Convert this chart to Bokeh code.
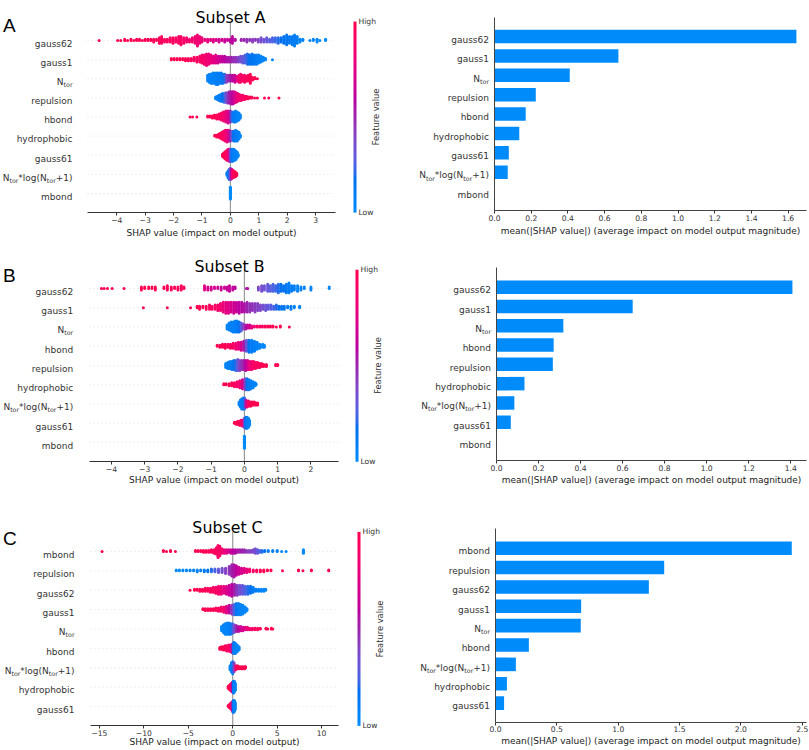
import math
import numpy as np
from bokeh.plotting import figure
from bokeh.layouts import column, row
from bokeh.models import (LinearColorMapper, ColorBar, FixedTicker, Label,
                          NumeralTickFormatter, CustomJSTickFormatter, ColumnDataSource)
from bokeh.embed import file_html
from bokeh.resources import INLINE

# ======================= DATA =======================
A_features = ["gauss62", "gauss1", "Ntor", "repulsion", "hbond", "hydrophobic", "gauss61", "Ntor*log(Ntor+1)", "mbond"]
A_mean_abs = [1.645, 0.675, 0.41, 0.225, 0.17, 0.135, 0.078, 0.072, 0.0]
B_features = ["gauss62", "gauss1", "Ntor", "hbond", "repulsion", "hydrophobic", "Ntor*log(Ntor+1)", "gauss61", "mbond"]
B_mean_abs = [1.408, 0.648, 0.318, 0.272, 0.268, 0.133, 0.085, 0.068, 0.0]
C_features = ["mbond", "repulsion", "gauss62", "gauss1", "Ntor", "hbond", "Ntor*log(Ntor+1)", "hydrophobic", "gauss61"]
C_mean_abs = [2.415, 1.375, 1.25, 0.698, 0.695, 0.272, 0.166, 0.093, 0.07]

A_swarm_ticks = [-4, -3, -2, -1, 0, 1, 2, 3]
B_swarm_ticks = [-4, -3, -2, -1, 0, 1, 2]
C_swarm_ticks = [-15, -10, -5, 0, 5, 10]
A_bar_ticks = [0.0, 0.2, 0.4, 0.6, 0.8, 1.0, 1.2, 1.4, 1.6]
B_bar_ticks = [0.0, 0.2, 0.4, 0.6, 0.8, 1.0, 1.2, 1.4]
C_bar_ticks = [0.0, 0.5, 1.0, 1.5, 2.0, 2.5]

# axis extents
A_swarm_xlim = (-5.03, 3.70)
B_swarm_xlim = (-4.66, 2.83)
C_swarm_xlim = (-16.0, 11.9)
A_bar_xlim = (0.0, 1.70)
B_bar_xlim = (0.0, 1.475)
C_bar_xlim = (0.0, 2.535)

# beeswarm stacks: (SHAP value, number of stacked points, feature value 0=low..1=high)
A_gauss62 = [(-4.62,1,1.0),(-3.97,1,1.0),(-3.86,1,1.0),(-3.72,2,1.0),(-3.62,1,1.0),(-3.5,2,1.0),(-3.4,1,1.0),
             (-3.3,2,0.98),(-3.2,2,0.98),(-3.1,1,0.98),(-3.0,2,0.97),(-2.9,2,0.97),(-2.8,2,0.97),(-2.7,3,0.96),
             (-2.6,2,0.96),(-2.5,5,0.95),(-2.42,6,0.95),(-2.32,3,0.94),(-2.22,3,0.93),(-2.12,4,0.93),(-2.02,5,0.92),
             (-1.92,4,0.91),(-1.82,6,0.9),(-1.74,7,0.9),(-1.64,5,0.89),(-1.54,4,0.88),(-1.44,3,0.87),(-1.34,4,0.86),
             (-1.24,6,0.85),(-1.16,9,0.84),(-1.08,6,0.83),(-1.0,4,0.82),(-0.9,2,0.8),(-0.8,3,0.78),(-0.7,2,0.76),
             (-0.6,3,0.74),(-0.5,2,0.72),(-0.4,3,0.7),(-0.3,2,0.68),(-0.2,3,0.66),(-0.1,2,0.64),(0.0,3,0.62),
             (0.07,6,0.6),(0.17,2,0.58),(0.38,2,0.5),(0.48,2,0.48),(0.58,3,0.47),(0.68,2,0.45),(0.78,3,0.43),
             (0.88,2,0.42),(0.98,3,0.4),(1.08,4,0.36),(1.18,3,0.33),(1.28,4,0.3),(1.38,3,0.28),(1.48,4,0.25),
             (1.58,4,0.22),(1.68,5,0.2),(1.78,4,0.18),(1.88,6,0.16),(1.98,8,0.14),(2.08,6,0.12),(2.18,7,0.1),
             (2.26,9,0.1),(2.35,6,0.08),(2.45,3,0.06),(2.55,2,0.05),(2.8,1,0.04),(2.92,2,0.03),(3.05,3,0.02),
             (3.15,1,0.02),(3.35,2,0.0)]
A_gauss1 = [(-2.08,2,1.0),(-1.98,2,1.0),(-1.88,2,0.98),(-1.78,2,0.98),(-1.68,2,0.97),(-1.58,3,0.96),(-1.48,3,0.95),
            (-1.38,3,0.94),(-1.28,4,0.93),(-1.18,5,0.92),(-1.08,6,0.9),(-1.0,8,0.88),(-0.92,9,0.86),(-0.84,11,0.84),
            (-0.76,10,0.82),(-0.68,8,0.8),(-0.6,7,0.77),(-0.52,8,0.74),(-0.44,7,0.7),(-0.36,6,0.66),(-0.28,6,0.62),
            (-0.2,6,0.6),(-0.12,5,0.57),(-0.04,5,0.55),(0.04,5,0.5),(0.12,5,0.47),(0.2,5,0.44),(0.28,5,0.4),
            (0.36,6,0.35),(0.44,7,0.3),(0.52,8,0.25),(0.6,10,0.2),(0.68,9,0.16),(0.76,10,0.14),(0.84,9,0.12),
            (0.92,9,0.1),(1.0,8,0.08),(1.08,6,0.06),(1.16,4,0.05),(1.24,2,0.04),(1.48,1,0.02)]
A_Ntor = [(-0.8,6,0.04),(-0.74,8,0.05),(-0.68,9,0.05),(-0.62,10,0.06),(-0.56,10,0.06),(-0.5,11,0.07),(-0.44,11,0.08),
          (-0.38,10,0.09),(-0.32,10,0.1),(-0.26,9,0.12),(-0.2,8,0.2),(-0.14,7,0.38),(-0.08,6,0.45),(-0.02,6,0.5),
          (0.04,6,0.55),(0.1,6,0.6),(0.16,7,0.65),(0.22,5,0.72),(0.3,7,0.85),(0.36,8,0.88),(0.42,6,0.9),
          (0.5,7,0.92),(0.56,5,0.94),(0.62,6,0.95),(0.7,9,0.97),(0.78,3,0.98),(0.86,2,1.0),(0.95,1,1.0)]
A_repulsion = [(-0.52,3,0.05),(-0.46,5,0.06),(-0.4,7,0.08),(-0.34,9,0.1),(-0.28,10,0.15),(-0.22,11,0.2),(-0.16,12,0.3),
               (-0.1,13,0.4),(-0.04,14,0.5),(0.02,15,0.55),(0.08,15,0.6),(0.14,14,0.68),(0.2,12,0.75),(0.26,10,0.8),
               (0.32,8,0.85),(0.38,7,0.88),(0.44,6,0.9),(0.5,5,0.92),(0.56,4,0.94),(0.62,3,0.96),(0.68,2,0.97),
               (0.75,2,0.98),(0.85,1,1.0),(0.95,1,1.0),(1.2,1,1.0),(1.35,1,1.0),(1.71,1,1.0)]
A_hbond = [(-1.42,1,1.0),(-1.33,1,1.0),(-1.18,1,1.0),(-0.8,2,1.0),(-0.72,2,1.0),(-0.64,3,0.98),(-0.56,4,0.97),
           (-0.48,5,0.95),(-0.4,6,0.93),(-0.32,8,0.9),(-0.24,10,0.85),(-0.16,12,0.8),(-0.08,13,0.7),(0.0,12,0.5),
           (0.06,10,0.2),(0.12,11,0.1),(0.18,12,0.08),(0.24,10,0.06),(0.3,8,0.05),(0.35,4,0.04)]
A_hydrophobic = [(-0.55,2,1.0),(-0.48,3,1.0),(-0.42,4,0.98),(-0.36,6,0.96),(-0.3,8,0.94),(-0.24,10,0.9),(-0.18,12,0.87),
                 (-0.12,13,0.8),(-0.06,12,0.7),(0.0,11,0.5),(0.06,10,0.3),(0.12,11,0.15),(0.18,12,0.1),(0.24,11,0.08),
                 (0.3,8,0.06),(0.35,3,0.05)]
A_gauss61 = [(-0.28,3,1.0),(-0.24,5,1.0),(-0.2,7,0.98),(-0.16,9,0.96),(-0.12,11,0.93),(-0.08,12,0.88),(-0.04,13,0.7),
             (0.0,13,0.4),(0.04,13,0.2),(0.08,13,0.12),(0.12,12,0.08),(0.16,11,0.06),(0.2,9,0.05),(0.24,6,0.04),
             (0.27,3,0.03)]
A_Ntorlog = [(-0.12,4,0.1),(-0.08,9,0.12),(-0.04,13,0.2),(0.0,14,0.35),(0.04,12,0.6),(0.08,10,0.85),(0.12,8,0.95),
             (0.16,7,1.0),(0.2,5,1.0),(0.22,3,1.0)]
A_mbond = [(0.0,20,0.0)]

B_gauss62 = [(-4.3,1,1.0),(-4.22,1,1.0),(-4.12,1,1.0),(-3.98,1,1.0),(-3.62,1,1.0),(-3.1,3,1.0),(-3.0,2,1.0),(-2.88,2,1.0),
             (-2.78,2,0.98),(-2.68,3,0.98),(-2.42,2,0.97),(-2.32,4,0.97),(-2.2,3,0.96),(-2.1,2,0.96),(-2.0,3,0.95),
             (-1.9,4,0.95),(-1.82,2,0.94),(-1.2,4,0.75),(-1.1,3,0.72),(-1.0,3,0.7),(-0.9,2,0.68),(-0.8,2,0.67),
             (-0.7,3,0.66),(-0.6,2,0.65),(-0.52,3,0.64),(-0.45,5,0.64),(-0.35,3,0.62),(-0.28,2,0.6),(0.06,1,0.55),
             (0.1,1,0.55),(0.42,3,0.38),(0.52,5,0.35),(0.6,4,0.33),(0.7,6,0.3),(0.78,5,0.28),(0.86,6,0.25),
             (0.94,5,0.22),(1.02,7,0.2),(1.1,6,0.18),(1.18,5,0.15),(1.26,7,0.12),(1.34,8,0.1),(1.42,5,0.1),
             (1.5,4,0.08),(1.6,5,0.07),(1.7,3,0.06),(1.8,2,0.05),(2.0,3,0.04),(2.55,2,0.02)]
B_gauss1 = [(-3.04,1,1.0),(-2.32,1,1.0),(-1.62,1,1.0),(-1.42,2,1.0),(-1.35,3,0.98),(-1.25,2,0.97),(-1.15,3,0.96),
            (-1.05,4,0.94),(-0.97,3,0.93),(-0.88,4,0.9),(-0.8,5,0.88),(-0.72,6,0.85),(-0.64,8,0.8),(-0.56,9,0.77),
            (-0.48,9,0.74),(-0.4,8,0.7),(-0.32,9,0.67),(-0.24,8,0.64),(-0.16,9,0.6),(-0.08,8,0.58),(0.0,7,0.55),
            (0.08,8,0.5),(0.16,7,0.47),(0.24,6,0.45),(0.32,7,0.42),(0.4,6,0.4),(0.48,5,0.38),(0.56,4,0.35),
            (0.64,5,0.32),(0.72,4,0.3),(0.8,4,0.27),(0.88,3,0.24),(0.96,4,0.2),(1.04,3,0.18),(1.12,3,0.15),
            (1.2,3,0.12),(1.3,2,0.1),(1.4,3,0.08),(1.5,2,0.06),(1.66,2,0.04)]
B_Ntor = [(-0.52,5,0.05),(-0.46,8,0.05),(-0.4,10,0.06),(-0.34,11,0.07),(-0.28,12,0.08),(-0.22,12,0.1),(-0.16,11,0.15),
          (-0.1,9,0.25),(-0.04,6,0.4),(0.04,5,0.55),(0.1,4,0.62),(0.16,4,0.7),(0.22,3,0.78),(0.3,2,0.85),
          (0.38,2,0.9),(0.46,2,0.92),(0.54,2,0.94),(0.62,2,0.96),(0.7,2,0.97),(0.78,2,0.98),(0.86,2,0.99),
          (0.96,1,1.0),(1.08,2,1.0),(1.35,1,1.0)]
B_hbond = [(-0.82,2,1.0),(-0.74,3,1.0),(-0.66,4,0.98),(-0.58,5,0.97),(-0.5,4,0.95),(-0.42,5,0.93),(-0.34,6,0.9),
           (-0.26,7,0.85),(-0.18,8,0.8),(-0.1,9,0.7),(-0.02,10,0.55),(0.06,12,0.3),(0.14,13,0.15),(0.22,13,0.1),
           (0.3,11,0.08),(0.38,8,0.06),(0.46,5,0.05),(0.55,4,0.04),(0.6,3,0.03)]
B_repulsion = [(-0.56,5,0.05),(-0.5,7,0.06),(-0.44,8,0.08),(-0.38,9,0.1),(-0.32,10,0.15),(-0.26,11,0.2),(-0.2,12,0.3),
               (-0.14,11,0.4),(-0.08,10,0.45),(-0.02,10,0.5),(0.04,11,0.6),(0.1,10,0.7),(0.16,9,0.8),(0.22,9,0.85),
               (0.28,8,0.9),(0.34,7,0.92),(0.4,6,0.94),(0.46,5,0.95),(0.52,4,0.97),(0.58,3,0.98),(0.66,3,1.0),
               (0.94,2,1.0),(1.0,2,1.0)]
B_hydrophobic = [(-0.62,2,1.0),(-0.55,2,1.0),(-0.46,3,0.98),(-0.38,4,0.96),(-0.3,5,0.93),(-0.22,6,0.9),(-0.14,8,0.85),
                 (-0.06,10,0.7),(0.02,12,0.4),(0.08,12,0.15),(0.14,11,0.1),(0.2,9,0.08),(0.26,7,0.06),(0.32,4,0.05),
                 (0.35,2,0.04)]
B_Ntorlog = [(-0.16,4,0.05),(-0.12,8,0.06),(-0.08,11,0.08),(-0.04,12,0.1),(0.0,12,0.2),(0.04,8,0.5),(0.08,7,0.75),
             (0.12,6,0.9),(0.16,5,0.95),(0.2,5,1.0),(0.25,4,1.0),(0.3,4,1.0),(0.35,3,1.0),(0.4,3,1.0)]
B_gauss61 = [(-0.3,2,1.0),(-0.25,3,1.0),(-0.2,4,0.98),(-0.15,5,0.96),(-0.1,6,0.93),(-0.05,7,0.85),(0.0,10,0.4),
             (0.04,12,0.15),(0.08,12,0.08),(0.12,10,0.05),(0.15,6,0.04)]
B_mbond = [(0.0,20,0.0)]

C_mbond = [(-14.7,1,1.0),(-7.8,2,1.0),(-7.45,1,1.0),(-7.0,2,1.0),(-6.45,1,1.0),(-4.2,2,1.0),(-3.9,2,1.0),(-3.6,2,0.98),
           (-3.3,3,0.98),(-3.0,3,0.97),(-2.7,3,0.96),(-2.4,4,0.95),(-2.1,5,0.94),(-1.85,8,0.93),(-1.65,15,0.92),
           (-1.45,12,0.9),(-1.2,6,0.85),(-0.95,5,0.8),(-0.7,5,0.75),(-0.45,4,0.7),(-0.2,5,0.65),(0.05,5,0.6),
           (0.3,5,0.58),(0.55,4,0.55),(0.8,4,0.52),(1.05,4,0.5),(1.3,4,0.48),(1.55,3,0.45),(1.8,3,0.42),
           (2.05,3,0.4),(2.3,4,0.38),(2.55,6,0.35),(2.8,5,0.3),(3.05,3,0.25),(3.3,3,0.2),(3.6,2,0.15),(4.0,2,0.1),
           (4.5,2,0.08),(5.0,2,0.06),(5.5,1,0.05),(6.0,1,0.04),(7.95,5,0.02)]
C_repulsion = [(-6.35,2,0.0),(-6.0,2,0.0),(-5.6,2,0.02),(-5.2,2,0.03),(-4.8,2,0.04),(-4.4,2,0.05),(-4.0,3,0.06),
               (-3.6,2,0.08),(-3.2,3,0.1),(-2.8,3,0.15),(-2.4,4,0.2),(-2.0,4,0.25),(-1.6,5,0.3),(-1.2,6,0.35),
               (-0.8,7,0.4),(-0.4,10,0.45),(-0.1,14,0.5),(0.15,15,0.55),(0.4,12,0.6),(0.7,9,0.65),(1.0,7,0.7),
               (1.3,6,0.75),(1.6,5,0.8),(1.9,4,0.85),(2.3,3,0.9),(2.7,3,0.93),(3.1,3,0.96),(3.5,3,0.98),(3.9,2,1.0),
               (4.3,2,1.0),(5.6,1,1.0),(7.4,2,1.0),(7.9,1,1.0),(8.85,2,1.0),(10.8,2,1.0)]
C_gauss62 = [(-4.8,1,1.0),(-4.3,2,1.0),(-4.0,2,1.0),(-3.7,3,0.98),(-3.4,3,0.97),(-3.1,4,0.96),(-2.8,4,0.95),
             (-2.5,5,0.94),(-2.2,6,0.92),(-1.9,7,0.9),(-1.6,9,0.87),(-1.3,9,0.82),(-1.0,8,0.77),(-0.7,9,0.72),
             (-0.4,11,0.65),(-0.1,13,0.6),(0.2,12,0.5),(0.5,11,0.42),(0.8,10,0.35),(1.1,10,0.3),(1.4,9,0.25),
             (1.7,9,0.2),(2.0,8,0.15),(2.3,6,0.1),(2.6,3,0.08),(2.9,3,0.06),(3.2,3,0.05),(3.5,3,0.04),(3.7,2,0.03)]
C_gauss1 = [(-3.35,2,1.0),(-3.1,3,1.0),(-2.8,3,1.0),(-2.5,3,0.98),(-2.2,3,0.97),(-1.9,4,0.95),(-1.6,5,0.93),
            (-1.3,6,0.9),(-1.0,7,0.85),(-0.7,9,0.75),(-0.4,10,0.6),(-0.1,11,0.45),(0.15,13,0.25),(0.4,14,0.12),
            (0.65,14,0.08),(0.9,13,0.06),(1.15,11,0.05),(1.4,7,0.04),(1.6,3,0.03)]
C_Ntor = [(-1.25,6,0.02),(-1.05,10,0.03),(-0.85,13,0.04),(-0.65,14,0.05),(-0.45,14,0.07),(-0.25,13,0.1),(-0.05,12,0.2),
          (0.15,10,0.35),(0.4,8,0.5),(0.65,7,0.58),(0.9,6,0.65),(1.15,5,0.7),(1.4,4,0.75),(1.65,4,0.8),(1.9,3,0.85),
          (2.2,3,0.88),(2.5,3,0.92),(2.8,3,0.95),(3.1,2,0.97),(3.75,2,1.0),(3.95,1,1.0),(4.35,2,1.0),(4.5,1,1.0)]
C_hbond = [(-1.45,3,1.0),(-1.25,4,1.0),(-1.05,5,0.98),(-0.85,6,0.96),(-0.65,7,0.93),(-0.45,8,0.9),(-0.25,9,0.85),
           (-0.05,11,0.5),(0.12,14,0.1),(0.3,13,0.07),(0.5,9,0.05),(0.7,5,0.04)]
C_Ntorlog = [(-0.3,5,0.05),(-0.15,10,0.06),(0.0,13,0.1),(0.15,10,0.4),(0.35,5,0.85),(0.55,4,0.95),(0.75,3,1.0),
             (0.95,3,1.0),(1.15,3,1.0),(1.35,3,1.0),(1.45,2,1.0)]
C_hydrophobic = [(-0.5,3,1.0),(-0.38,5,1.0),(-0.26,7,0.97),(-0.14,9,0.9),(-0.02,11,0.6),(0.08,13,0.15),(0.18,12,0.07),
                 (0.28,8,0.04)]
C_gauss61 = [(-0.5,2,1.0),(-0.38,4,1.0),(-0.26,6,0.97),(-0.14,8,0.9),(-0.02,11,0.5),(0.08,13,0.12),(0.18,12,0.06),
             (0.28,8,0.04)]

A_rows = [A_gauss62, A_gauss1, A_Ntor, A_repulsion, A_hbond, A_hydrophobic, A_gauss61, A_Ntorlog, A_mbond]
B_rows = [B_gauss62, B_gauss1, B_Ntor, B_hbond, B_repulsion, B_hydrophobic, B_Ntorlog, B_gauss61, B_mbond]
C_rows = [C_mbond, C_repulsion, C_gauss62, C_gauss1, C_Ntor, C_hbond, C_Ntorlog, C_hydrophobic, C_gauss61]

# ======================= STYLE / LAYOUT =======================
FONT = "DejaVu Sans"
AXIS_COL = "#333333"
BAR_COL = "#008bfb"


def lch_to_hex(L, C, h):
    a, b = C * math.cos(h), C * math.sin(h)
    fy = (L + 16) / 116
    fx, fz = fy + a / 500, fy - b / 200

    def finv(t):
        return t ** 3 if t ** 3 > 0.008856 else (t - 16 / 116) / 7.787
    X, Y, Z = 0.95047 * finv(fx), finv(fy), 1.08883 * finv(fz)
    rgb = [3.2406 * X - 1.5372 * Y - 0.4986 * Z,
           -0.9689 * X + 1.8758 * Y + 0.0415 * Z,
           0.0557 * X - 0.2040 * Y + 1.0570 * Z]
    out = []
    for v in rgb:
        v = 12.92 * v if v <= 0.0031308 else 1.055 * (max(v, 0) ** (1 / 2.4)) - 0.055
        out.append(int(round(min(max(v, 0), 1) * 255)))
    return "#%02x%02x%02x" % tuple(out)


def red_blue_palette(nsteps=100):
    blue_lch = (54.0, 70.0, 4.6588)
    red_lch = (54.0, 90.0, 0.35470565 + 2 * math.pi)
    l_mid = 40.0
    ls = list(np.linspace(blue_lch[0], l_mid, nsteps // 2)) + list(np.linspace(l_mid, red_lch[0], nsteps // 2))
    cs = np.linspace(blue_lch[1], red_lch[1], nsteps)
    hs = np.linspace(blue_lch[2], red_lch[2], nsteps)
    return [lch_to_hex(l, c, h) for l, c, h in zip(ls, cs, hs)]


MAPPER = LinearColorMapper(palette=red_blue_palette(), low=0, high=1)

# DejaVu Sans advance widths (em) for the pieces of subscripted labels
CW = {"N": 0.748, "t": 0.392, "o": 0.612, "r": 0.411, "*": 0.5, "l": 0.278, "g": 0.635,
      "(": 0.390, ")": 0.390, "+": 0.838, "1": 0.636}


def tw(s, size):
    return sum(CW[ch] for ch in s) * size


class Geo:
    """maps picture pixels to a figure whose frame fills the whole figure"""
    def __init__(self, fig_box, plot_box, xlim, ylim):
        self.fx0, self.fy0, self.fx1, self.fy1 = fig_box
        px0, py0, px1, py1 = plot_box
        ux = (px1 - px0) / (xlim[1] - xlim[0])
        uy = (py1 - py0) / (ylim[1] - ylim[0])
        self.xr = (xlim[0] - (px0 - self.fx0) / ux, xlim[1] + (self.fx1 - px1) / ux)
        self.yr = (ylim[0] - (self.fy1 - py1) / uy, ylim[1] + (py0 - self.fy0) / uy)
        self.W = int(round(self.fx1 - self.fx0))
        self.H = int(round(self.fy1 - self.fy0))

    def sx(self, x):
        return x - self.fx0

    def sy(self, y):
        return self.fy1 - y


def new_fig(geo):
    p = figure(width=geo.W, height=geo.H, x_range=geo.xr, y_range=geo.yr, output_backend="svg",
               toolbar_location=None, min_border=0, title=None)
    p.outline_line_color = None
    p.grid.visible = False
    return p


def txt(p, geo, x, y, text, size, color, align="center", baseline="middle", angle=0.0, font=FONT):
    p.add_layout(Label(x=geo.sx(x), y=geo.sy(y), x_units="screen", y_units="screen", text=text,
                       text_align=align, text_baseline=baseline, angle=angle, text_font=font,
                       text_font_size=f"{size}px", text_color=color))


def feature_label(p, geo, name, yrow, x_right, size=9.0):
    if name == "Ntor":
        pieces = [("N", False), ("tor", True)]
    elif name == "Ntor*log(Ntor+1)":
        pieces = [("N", False), ("tor", True), ("*log(N", False), ("tor", True), ("+1)", False)]
    else:
        pieces = [(name, False)]
    common = dict(y=yrow, x_units="screen", y_units="data", text_font=FONT,
                  text_color=AXIS_COL, text_baseline="alphabetic")
    if len(pieces) == 1:
        p.add_layout(Label(x=geo.sx(x_right), text=name, text_align="right", y_offset=-3.3,
                           text_font_size=f"{size}px", **common))
        return
    sub = size * 0.7
    total = sum(tw(t, sub if s else size) for t, s in pieces)
    x = x_right - total
    for t, s in pieces:
        fs = sub if s else size
        p.add_layout(Label(x=geo.sx(x), text=t, text_align="left", y_offset=-3.3 - (2.6 if s else 0.0),
                           text_font_size=f"{fs:.2f}px", **common))
        x += tw(t, fs)


def style_xaxis(p, xlim, ticks, formatter, lstand):
    ax = p.xaxis[0]
    ax.fixed_location = -1
    ax.bounds = xlim
    ax.ticker = FixedTicker(ticks=ticks)
    ax.formatter = formatter
    ax.major_label_text_font = FONT
    ax.major_label_text_font_size = "7.6px"
    ax.major_label_text_color = AXIS_COL
    ax.major_label_standoff = lstand
    ax.axis_line_color = AXIS_COL
    ax.axis_line_width = 1
    ax.major_tick_line_color = AXIS_COL
    ax.major_tick_out = 3
    ax.major_tick_in = 0
    ax.minor_tick_line_color = None


MINUS_FMT = "return (tick < 0 ? '\u2212' : '') + Math.abs(tick).toFixed(0);"


def make_beeswarm(features, rows, xlim, ticks, g):
    n = len(features)
    geo = Geo(g["fig"], g["plot"], xlim, (-1, n))
    xs, ys, cs = [], [], []
    for i, stacks in enumerate(rows):
        pos = n - 1 - i
        lmax = max(math.ceil((k - 1) / 2) for _, k, _ in stacks)
        scale = 0.9 * 0.4 / (lmax + 1)
        for x, k, c in stacks:
            for layer in range(k):
                off = math.ceil(layer / 2) * ((layer % 2) * 2 - 1)
                xs.append(x)
                ys.append(pos + off * scale)
                cs.append(c)
    p = new_fig(geo)
    p.yaxis.visible = False
    rows_y = list(range(n))
    p.segment(x0=[xlim[0]] * n, y0=rows_y, x1=[xlim[1]] * n, y1=rows_y,
              line_color="#cccccc", line_width=0.6, line_dash="1 3")
    p.segment(x0=[0], y0=[-1], x1=[0], y1=[n], line_color="#9a9a9a", line_width=1.2)
    src = ColumnDataSource(dict(x=xs, y=ys, c=cs))
    p.scatter("x", "y", source=src, size=3, line_color=None,
              fill_color={"field": "c", "transform": MAPPER})
    style_xaxis(p, xlim, ticks, CustomJSTickFormatter(code=MINUS_FMT), g["ls"])
    px0, py0, px1, py1 = g["plot"]
    txt(p, geo, (px0 + px1) / 2, g["xlab"], "SHAP value (impact on model output)", 9, "#222222")
    for i, name in enumerate(features):
        feature_label(p, geo, name, n - 1 - i, g["ylab_right"])
    cb = ColorBar(color_mapper=MAPPER, location=(geo.sx(g["cbx"]), geo.sy(py1)), width=3,
                  height=int(round(py1 - py0)), padding=0, margin=0, ticker=FixedTicker(ticks=[0, 1]),
                  major_label_overrides={0: "Low", 1: "High"},
                  major_label_text_font=FONT, major_label_text_font_size="7.6px",
                  major_label_text_color=AXIS_COL, label_standoff=2,
                  major_tick_line_color=None, minor_tick_line_color=None,
                  bar_line_color=None, border_line_color=None, background_fill_color=None)
    p.add_layout(cb, "center")
    txt(p, geo, g["fvx"], (py0 + py1) / 2, "Feature value", 8.3, AXIS_COL, angle=math.pi / 2)
    tx, tb = g["title"]
    txt(p, geo, tx, tb, g["title_text"], 15.8, "black", baseline="alphabetic")
    lx, lb = g["letter"]
    txt(p, geo, lx, lb, g["letter_text"], 19, "black", align="left", baseline="alphabetic",
        font="Liberation Sans")
    return p


def make_bar(features, values, xlim, ticks, g):
    n = len(features)
    geo = Geo(g["fig"], g["plot"], xlim, (-1, n))
    p = new_fig(geo)
    pos = [n - 1 - i for i in range(n)]
    p.hbar(y=pos, left=0, right=values, height=0.7, fill_color=BAR_COL, line_color=None)
    ya = p.yaxis[0]
    ya.fixed_location = xlim[0]
    ya.bounds = (-1, n)
    ya.ticker = FixedTicker(ticks=[])
    ya.axis_line_color = "#444444"
    ya.major_tick_line_color = None
    ya.minor_tick_line_color = None
    style_xaxis(p, xlim, ticks, NumeralTickFormatter(format="0.0"), g["ls"])
    p.xaxis.axis_line_color = "#444444"
    px0, py0, px1, py1 = g["plot"]
    txt(p, geo, (px0 + px1) / 2, g["xlab"],
        "mean(|SHAP value|) (average impact on model output magnitude)", 9, "#222222")
    for i, name in enumerate(features):
        feature_label(p, geo, name, n - 1 - i, px0 - 5.5)
    return p


# picture geometry (the page is drawn from its top-left corner)
GL = {
    "A": dict(fig=(0, 0, 400, 245), plot=(87, 20.9, 335, 212.1), ls=1, xlab=232.0, ylab_right=72.0,
              cbx=353, fvx=375, title=(230, 16.5), title_text="Subset A", letter=(2.5, 25.0), letter_text="A"),
    "B": dict(fig=(0, 245, 400, 497), plot=(89, 268.75, 338, 461.25), ls=1, xlab=479.5, ylab_right=72.7,
              cbx=355, fvx=377, title=(229, 266.0), title_text="Subset B", letter=(2.5, 275.0), letter_text="B"),
    "C": dict(fig=(0, 497, 400, 750), plot=(90, 531.6, 338, 725.4), ls=1, xlab=741.7, ylab_right=74.0,
              cbx=357, fvx=379, title=(227, 527.0), title_text="Subset C", letter=(2.5, 538.0), letter_text="C"),
}
GR = {
    "A": dict(fig=(400, 0, 809, 245), plot=(494, 16.7, 806, 210.4), ls=1, xlab=230.0),
    "B": dict(fig=(400, 245, 809, 497), plot=(496, 267.4, 806, 460.3), ls=1, xlab=479.0),
    "C": dict(fig=(400, 497, 809, 750), plot=(495, 528.3, 806, 722.0), ls=0, xlab=740.0),
}

pA = make_beeswarm(A_features, A_rows, A_swarm_xlim, A_swarm_ticks, GL["A"])
pB = make_beeswarm(B_features, B_rows, B_swarm_xlim, B_swarm_ticks, GL["B"])
pC = make_beeswarm(C_features, C_rows, C_swarm_xlim, C_swarm_ticks, GL["C"])
bA = make_bar(A_features, A_mean_abs, A_bar_xlim, A_bar_ticks, GR["A"])
bB = make_bar(B_features, B_mean_abs, B_bar_xlim, B_bar_ticks, GR["B"])
bC = make_bar(C_features, C_mean_abs, C_bar_xlim, C_bar_ticks, GR["C"])

layout = column(row(pA, bA), row(pB, bB), row(pC, bC))

with open("out.html", "w", encoding="utf-8") as f:
    f.write(file_html(layout, INLINE, "SHAP summary"))
